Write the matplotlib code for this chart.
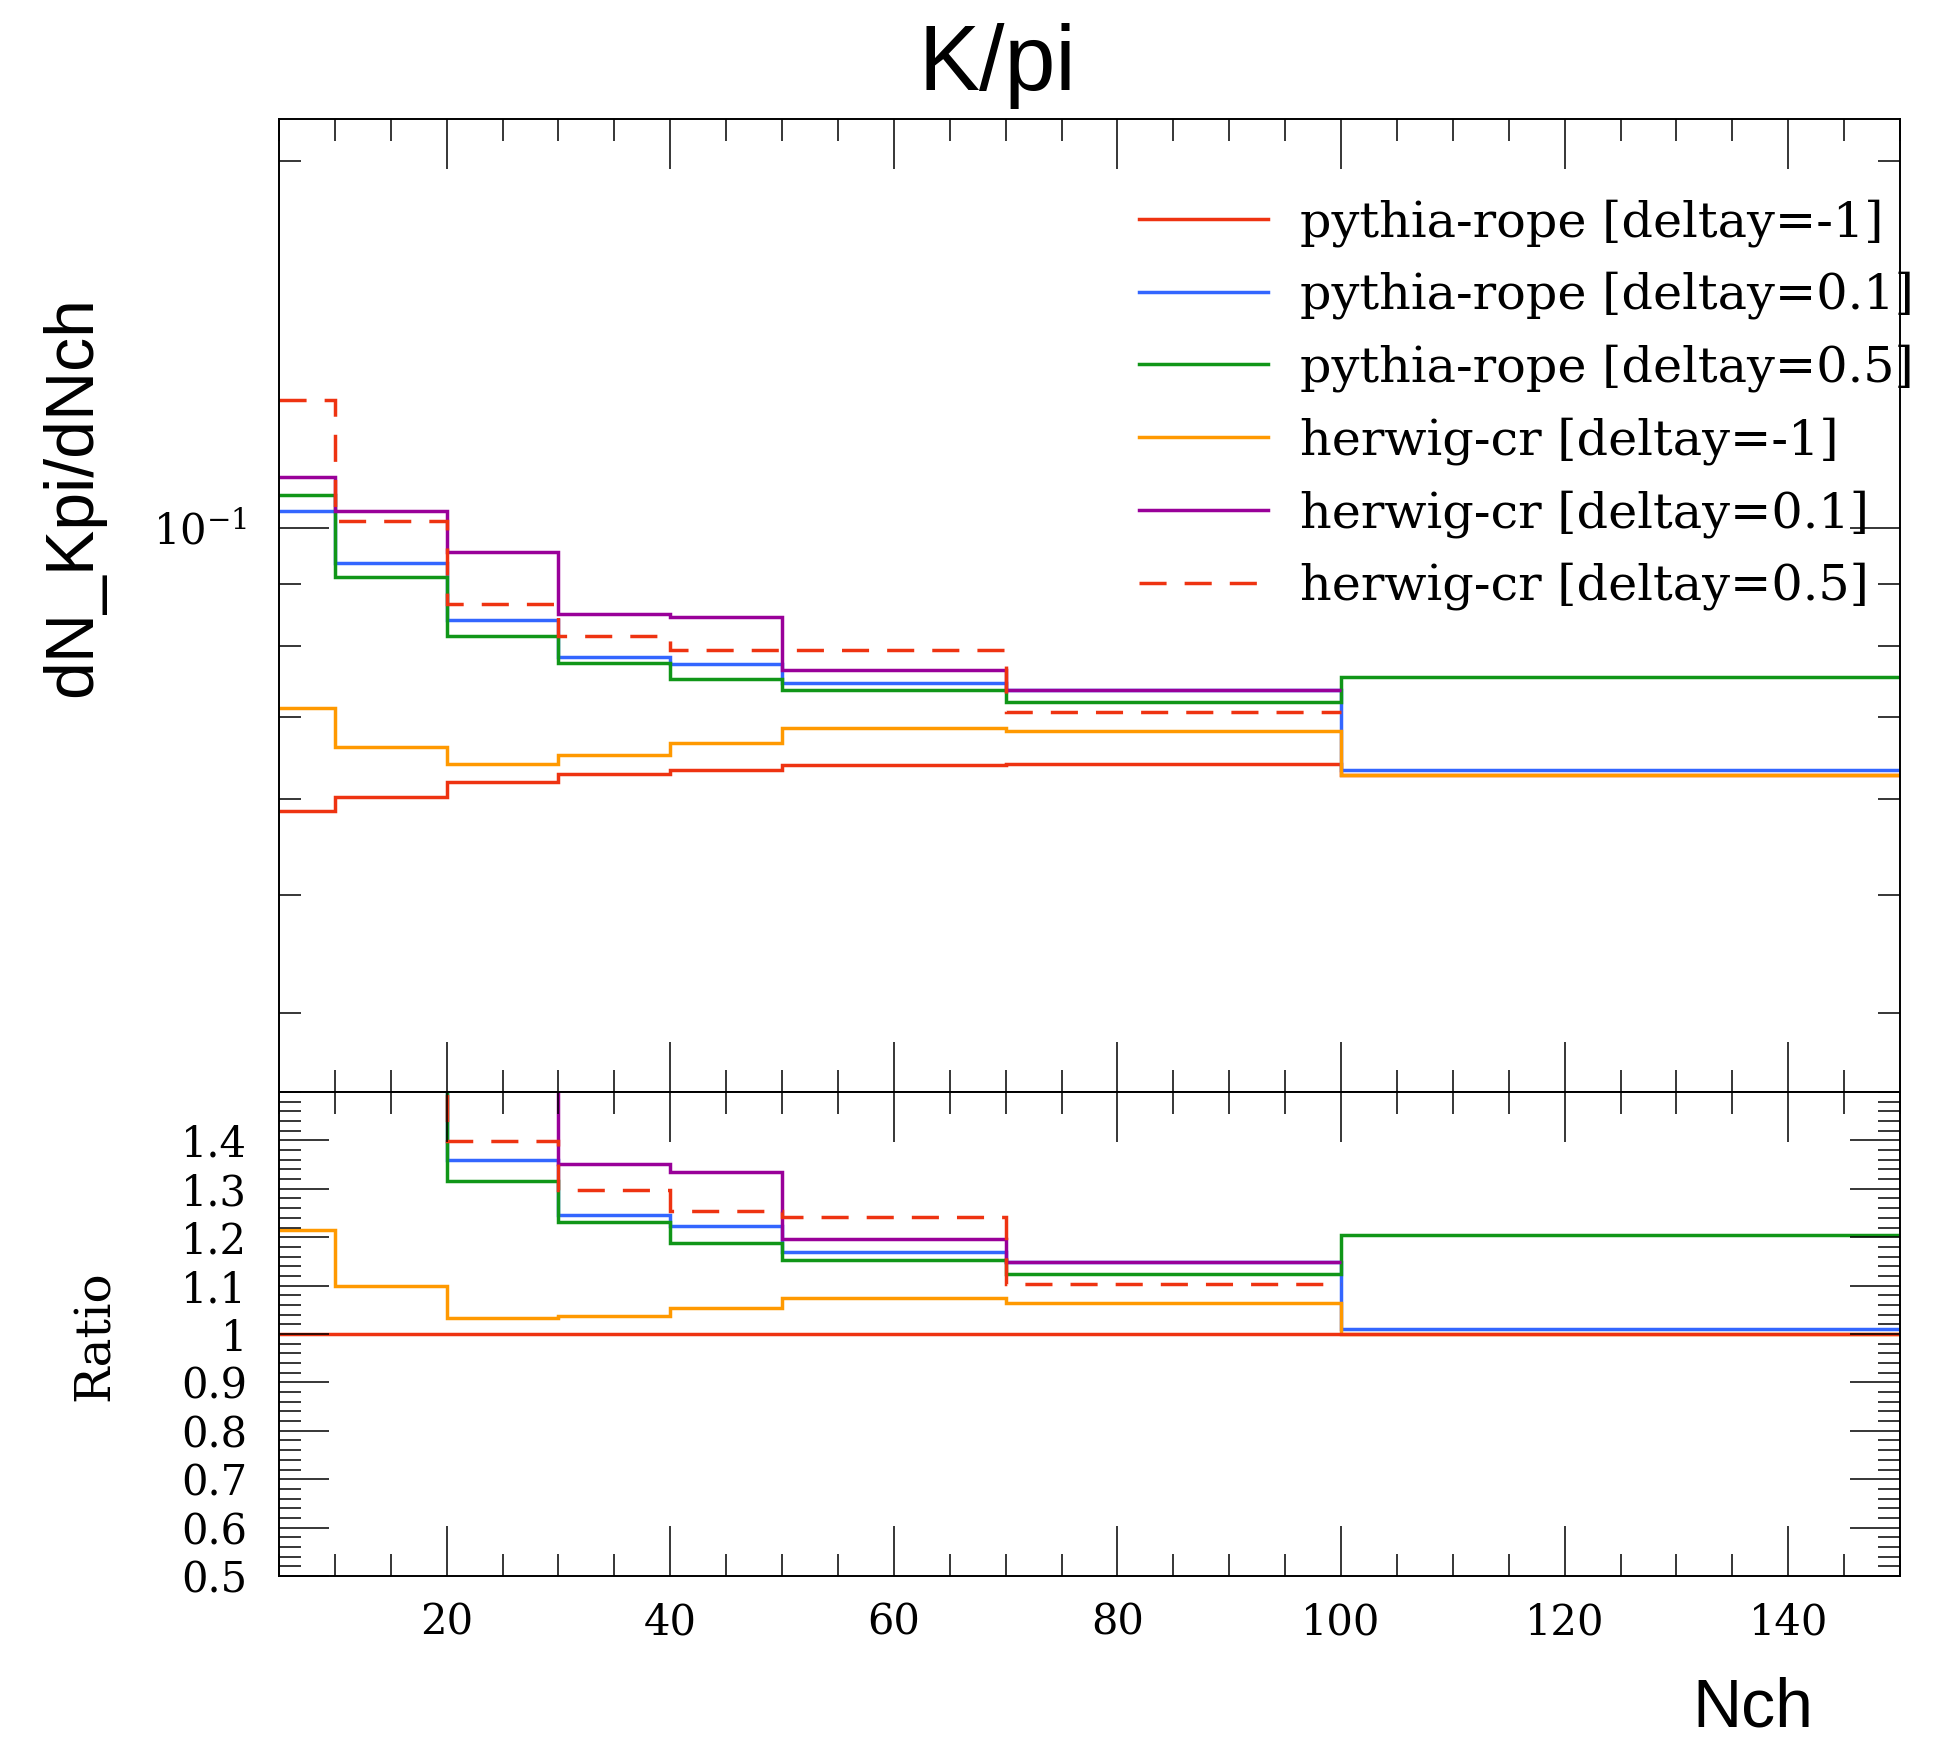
import numpy as np
import matplotlib
matplotlib.use("Agg")
import matplotlib.pyplot as plt
from matplotlib.ticker import MultipleLocator, FixedLocator, NullFormatter, FuncFormatter, LogLocator

plt.rcParams['mathtext.fontset'] = 'dejavuserif'

# bin edges in Nch
edges = [5, 10, 20, 30, 40, 50, 70, 100, 150]
edges_short = edges[:8]  # herwig-cr 0.1 / 0.5 stop at 100

# dN_Kpi/dNch per bin
pythia_rope_m1 = [0.0586, 0.0602, 0.0619, 0.0629, 0.0633, 0.0639, 0.0641, 0.0627]
pythia_rope_01 = [0.1033, 0.0936, 0.0841, 0.0784, 0.0774, 0.0747, 0.0736, 0.0633]
pythia_rope_05 = [0.1064, 0.0911, 0.0815, 0.0775, 0.0752, 0.0737, 0.0720, 0.0755]
herwig_cr_m1 = [0.0712, 0.0662, 0.0640, 0.0652, 0.0667, 0.0686, 0.0682, 0.0627]
herwig_cr_01 = [0.1102, 0.1033, 0.0956, 0.0850, 0.0845, 0.0765, 0.0737]
herwig_cr_05 = [0.1274, 0.1014, 0.0866, 0.0816, 0.0794, 0.0794, 0.0707]

labels = ["pythia-rope [deltay=-1]", "pythia-rope [deltay=0.1]", "pythia-rope [deltay=0.5]",
          "herwig-cr [deltay=-1]", "herwig-cr [deltay=0.1]", "herwig-cr [deltay=0.5]"]
colors = ['#EE3311', '#3366FF', '#109618', '#FF9900', '#990099', '#EE3311']

series = [pythia_rope_m1, pythia_rope_01, pythia_rope_05, herwig_cr_m1, herwig_cr_01, herwig_cr_05]
ref = np.array(pythia_rope_m1)

fig = plt.figure(figsize=(19.37, 17.47), dpi=100)
ax = fig.add_axes([0.14404, 0.37493, 0.83686, 0.55695])
rax = fig.add_axes([0.14404, 0.09788, 0.83686, 0.27705], sharex=ax)

lw = 2.5
dash = (7.8, 5.2)

# main panel
for vals, lab, col in zip(series, labels, colors):
    e = edges if len(vals) == 8 else edges_short
    st = ax.stairs(vals, e, baseline=None, color=col, lw=lw, label=lab)
    if lab == labels[-1]:
        st.set_linestyle((0, dash))

# ratio panel, reference drawn last
for vals, lab, col in list(zip(series, labels, colors))[1:]:
    e = edges if len(vals) == 8 else edges_short
    r = np.array(vals) / ref[:len(vals)]
    st = rax.stairs(r, e, baseline=None, color=col, lw=lw)
    if lab == labels[-1]:
        st.set_linestyle((0, dash))
rax.stairs(ref / ref, edges, baseline=None, color=colors[0], lw=lw)

ax.set_yscale('log')
ax.set_xlim(5, 150)
ax.set_ylim(0.03449, 0.2164)
rax.set_ylim(0.5, 1.5)

for a in (ax, rax):
    a.xaxis.set_major_locator(MultipleLocator(20))
    a.xaxis.set_minor_locator(MultipleLocator(5))
    a.tick_params(which='both', direction='in', top=True, right=True, width=1.1, colors='black')
    a.tick_params(which='major', length=36)
    a.tick_params(which='minor', length=16)
    for s in a.spines.values():
        s.set_linewidth(1.4)

ax.yaxis.set_major_locator(LogLocator(base=10, subs=[1.0]))
ax.yaxis.set_minor_locator(LogLocator(base=10, subs=np.arange(2, 10)))
ax.yaxis.set_major_formatter(FuncFormatter(lambda v, p: r'$10^{%d}$' % round(np.log10(v))))
ax.yaxis.set_minor_formatter(NullFormatter())
ax.tick_params(axis='x', labelbottom=False)
ax.tick_params(axis='y', pad=23)

rax.yaxis.set_major_locator(FixedLocator([0.5, 0.6, 0.7, 0.8, 0.9, 1.0, 1.1, 1.2, 1.3, 1.4]))
rax.yaxis.set_minor_locator(MultipleLocator(0.02))
rax.yaxis.set_major_formatter(FuncFormatter(lambda v, p: '%g' % round(v, 1)))
rax.tick_params(axis='y', pad=23)
rax.tick_params(axis='x', pad=18)

for lbl in ax.get_yticklabels() + rax.get_yticklabels() + rax.get_xticklabels():
    lbl.set_fontfamily('DejaVu Serif')
    lbl.set_fontsize(30)

leg = ax.legend(loc='upper left', bbox_to_anchor=(0.588, 0.8862), bbox_transform=fig.transFigure,
                frameon=False, borderpad=0, borderaxespad=0, handlelength=2.62, handletextpad=0.64,
                labelspacing=0.505, prop={'family': 'DejaVu Serif', 'size': 35.5})

fig.text(0.5147, 0.9485, "K/pi", family='Liberation Sans', fontsize=66, ha='center', va='baseline')
fig.text(0.038, 0.716, "dN_Kpi/dNch", family='Liberation Sans', fontsize=49, rotation=90,
         ha='center', va='center')
fig.text(0.936, 0.012, "Nch", family='Liberation Sans', fontsize=49, ha='right', va='baseline')
fig.text(0.0494, 0.2353, "Ratio", family='DejaVu Serif', fontsize=35, rotation=90,
         ha='center', va='center')

fig.savefig("out.png", dpi=100)
